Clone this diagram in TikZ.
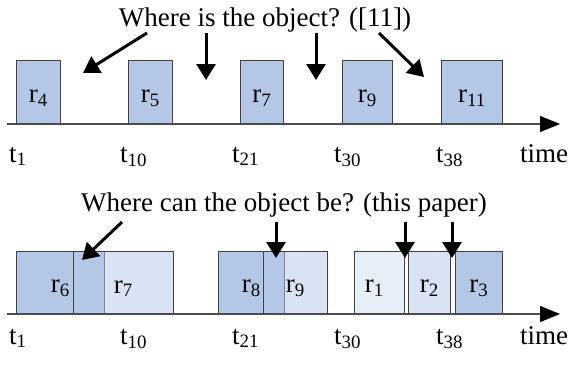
\documentclass[tikz,border=0pt]{standalone}
\usepackage{fontspec}
\setmainfont{Liberation Serif}
\usetikzlibrary{arrows.meta}

\definecolor{slotblue}{RGB}{180,199,231}

\begin{document}
\begin{tikzpicture}[
    x=1pt, y=-1pt,
    every node/.style={font=\fontsize{27}{32}\selectfont, inner sep=0pt},
    slot/.style={rectangle, draw=black!75, line width=0.9pt, fill=slotblue, fill opacity=#1, draw opacity=1, anchor=south west, inner sep=0pt},
    slot/.default=1,
    lab/.style={anchor=center},
    tick/.style={anchor=base west},
    pointer/.style={-{Triangle[length=16pt, width=19pt]}, line width=3pt},
    timeaxis/.style={-{Triangle[length=20pt, width=16pt, color=black]}, line width=1.3pt, draw=black!70},
]
    \useasboundingbox (0,0) rectangle (569,364);

    % --- Axis heights and tick baselines ---
    \def\yA{124}   % upper time axis
    \def\yB{314}   % lower time axis
    \def\tA{162}   % upper tick labels
    \def\tB{344}   % lower tick labels

    % --- Upper row: where is the object ---
    \node[anchor=base] (qtop) at (265,26) {Where is the object? ([11])};

    \node[slot, minimum width=44pt, minimum height=63pt] (up4)  at (16,\yA) {};
    \node[slot, minimum width=44pt, minimum height=63pt] (up5)  at (128,\yA) {};
    \node[slot, minimum width=43pt, minimum height=63pt] (up7)  at (240,\yA) {};
    \node[slot, minimum width=50pt, minimum height=63pt] (up9)  at (342,\yA) {};
    \node[slot, minimum width=61pt, minimum height=63pt] (up11) at (441,\yA) {};

    \node[lab] (up4l)  at ([yshift=-6pt]up4.center)  {r\textsubscript{4}};
    \node[lab] (up5l)  at ([yshift=-6pt]up5.center)  {r\textsubscript{5}};
    \node[lab] (up7l)  at ([yshift=-6pt]up7.center)  {r\textsubscript{7}};
    \node[lab] (up9l)  at ([yshift=-6pt]up9.center)  {r\textsubscript{9}};
    \node[lab] (up11l) at ([yshift=-6pt]up11.center) {r\textsubscript{11}};

    \coordinate (axAs) at (7,\yA);
    \coordinate (axAe) at (560,\yA);
    \draw[timeaxis] (axAs) -- (axAe);

    \node[tick] (ta1)  at (9,\tA)   {t\textsubscript{1}};
    \node[tick] (ta10) at (120,\tA) {t\textsubscript{10}};
    \node[tick] (ta21) at (232,\tA) {t\textsubscript{21}};
    \node[tick] (ta30) at (334,\tA) {t\textsubscript{30}};
    \node[tick] (ta38) at (436,\tA) {t\textsubscript{38}};
    \node[tick] (tatime) at (520,\tA) {time};

    % arrows from the question into the gaps
    \coordinate (pa1s) at (147,33);  \coordinate (pa1e) at (83,73);
    \coordinate (pa2s) at (206,33);  \coordinate (pa2e) at (206,80);
    \coordinate (pa3s) at (316,33);  \coordinate (pa3e) at (316,80);
    \coordinate (pa4s) at (379,33);  \coordinate (pa4e) at (424,77);
    \draw[pointer] (pa1s) -- (pa1e);
    \draw[pointer] (pa2s) -- (pa2e);
    \draw[pointer] (pa3s) -- (pa3e);
    \draw[pointer] (pa4s) -- (pa4e);

    % --- Lower row: where can the object be ---
    \node[anchor=base] (qbot) at (284,211) {Where can the object be? (this paper)};

    \node[slot, minimum width=88pt, minimum height=62pt] (lo6) at (16,\yB) {};
    \node[slot=0.5, minimum width=100pt, minimum height=62pt] (lo7) at (73,\yB) {};
    \node[slot, minimum width=66pt, minimum height=62pt] (lo8) at (218,\yB) {};
    \node[slot=0.5, minimum width=64pt, minimum height=62pt] (lo9) at (263,\yB) {};
    \node[slot=0.3, minimum width=50pt, minimum height=62pt] (lo1) at (354,\yB) {};
    \node[slot=0.5, minimum width=42pt, minimum height=62pt] (lo2) at (408,\yB) {};
    \node[slot, minimum width=47pt, minimum height=62pt] (lo3) at (455,\yB) {};

    \node[lab] (lo6l) at ([yshift=-6pt]lo6.center) {r\textsubscript{6}};
    \node[lab] (lo7l) at ([yshift=-6pt]lo7.center) {r\textsubscript{7}};
    \node[lab] (lo8l) at ([yshift=-6pt]lo8.center) {r\textsubscript{8}};
    \node[lab] (lo9l) at ([yshift=-6pt]lo9.center) {r\textsubscript{9}};
    \node[lab] (lo1l) at ([xshift=-5pt, yshift=-6pt]lo1.center) {r\textsubscript{1}};
    \node[lab] (lo2l) at ([yshift=-6pt]lo2.center) {r\textsubscript{2}};
    \node[lab] (lo3l) at ([yshift=-6pt]lo3.center) {r\textsubscript{3}};

    \coordinate (axBs) at (7,\yB);
    \coordinate (axBe) at (560,\yB);
    \draw[timeaxis] (axBs) -- (axBe);

    \node[tick] (tb1)  at (9,\tB)   {t\textsubscript{1}};
    \node[tick] (tb10) at (120,\tB) {t\textsubscript{10}};
    \node[tick] (tb21) at (232,\tB) {t\textsubscript{21}};
    \node[tick] (tb30) at (334,\tB) {t\textsubscript{30}};
    \node[tick] (tb38) at (436,\tB) {t\textsubscript{38}};
    \node[tick] (tbtime) at (520,\tB) {time};

    % arrows into the overlaps and gaps
    \coordinate (pb1s) at (122,222); \coordinate (pb1e) at (82,260);
    \coordinate (pb2s) at (276,222); \coordinate (pb2e) at (276,258);
    \coordinate (pb3s) at (405,222); \coordinate (pb3e) at (405,258);
    \coordinate (pb4s) at (452,222); \coordinate (pb4e) at (452,258);
    \draw[pointer] (pb1s) -- (pb1e);
    \draw[pointer] (pb2s) -- (pb2e);
    \draw[pointer] (pb3s) -- (pb3e);
    \draw[pointer] (pb4s) -- (pb4e);
\end{tikzpicture}
\end{document}
